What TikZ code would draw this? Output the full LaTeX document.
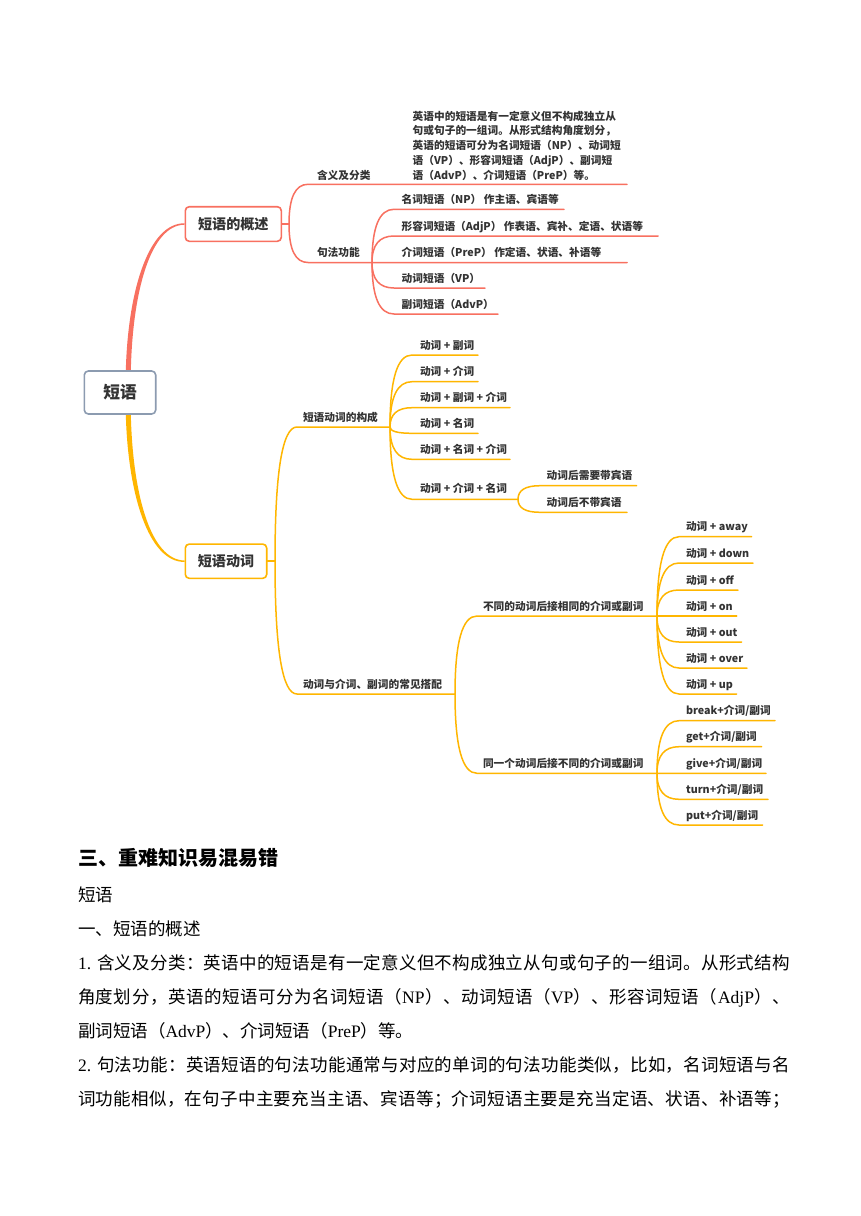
\documentclass[tikz,border=0pt]{standalone}
\usepackage{fontspec}
\setmainfont{Liberation Serif}
\newfontfamily\cjk{Noto Sans CJK SC}
\usetikzlibrary{calc,backgrounds}
\definecolor{redb}{RGB}{248,112,96}
\definecolor{orb}{RGB}{255,182,0}
\definecolor{rootb}{RGB}{140,155,176}
\definecolor{txt}{RGB}{51,51,51}
\makeatletter
\def\spr@end{\spr@end@}
\newcommand\spreadline[1]{\hbox to 712pt{\spr@first#1\spr@end}}
\def\spr@first#1{{#1}\spr@go}
\def\spr@go#1{\ifx\spr@end#1\else\hskip 0pt plus 1fil{#1}\expandafter\spr@go\fi}
\makeatother
\newcommand\conn[4]{\draw[#1] (#2) .. controls ($(#2)!0.667!(#2 |- #3)$) and ($(#3)!0.667!(#2 |- #3)$) .. (#3) -- (#4);}
\tikzset{
  mm/.style={anchor=base west, inner sep=0pt, outer sep=0pt, text=txt, font=\cjk\bfseries\fontsize{10.7}{12}\selectfont},
  rline/.style={draw=redb, line width=1.5pt, line cap=round},
  oline/.style={draw=orb, line width=1.5pt, line cap=round},
  tbox/.style={draw, rounded corners=4pt, line width=1.6pt, fill=white, inner sep=0pt, text=txt},
  body/.style={anchor=base west, inner sep=0pt, outer sep=0pt, text=black, font=\cjk\fontsize{17.5}{20}\selectfont},
}
\begin{document}
\begin{tikzpicture}[x=1pt,y=-1pt]
\useasboundingbox (0,0) rectangle (860,1216);

% ---------- main boxes
\node[tbox, draw=rootb, minimum width=71.4pt, minimum height=43pt, font=\cjk\bfseries\fontsize{16.7}{18}\selectfont] (root) at (120,392.5) {短语};
\node[tbox, draw=redb, minimum width=96pt, minimum height=34.6pt, font=\cjk\bfseries\fontsize{14.1}{16}\selectfont] (b1) at (233.3,224) {短语的概述};
\node[tbox, draw=orb, minimum width=81.4pt, minimum height=34.3pt, font=\cjk\bfseries\fontsize{14.1}{16}\selectfont] (b2) at (226,561.2) {短语动词};

% ---------- branch 1 texts
\node[mm] (t11) at (317,179) {含义及分类};
\node[mm] (t12) at (317,256) {句法功能};
\node[mm] (d1) at (412.7,120) {英语中的短语是有一定意义但不构成独立从};
\node[mm] (d2) at (412.7,134.8) {句或句子的一组词。从形式结构角度划分，};
\node[mm] (d3) at (412.7,149.6) {英语的短语可分为名词短语（NP）、动词短};
\node[mm] (d4) at (412.7,164.6) {语（VP）、形容词短语（AdjP）、副词短};
\node[mm] (d5) at (412.7,179.2) {语（AdvP）、介词短语（PreP）等。};
\node[mm] (s1) at (401.7,203.3) {名词短语（NP） 作主语、宾语等};
\node[mm] (s2) at (401.7,230) {形容词短语（AdjP） 作表语、宾补、定语、状语等};
\node[mm] (s3) at (401.7,256.5) {介词短语（PreP） 作定语、状语、补语等};
\node[mm] (s4) at (401.7,282) {动词短语（VP）};
\node[mm] (s5) at (401.7,308) {副词短语（AdvP）};

% ---------- branch 2 texts
\node[mm] (t21) at (303,421) {短语动词的构成};
\node[mm] (t22) at (303,688) {动词与介词、副词的常见搭配};
\node[mm] (c1) at (420,349) {动词 + 副词};
\node[mm] (c2) at (420,375.7) {动词 + 介词};
\node[mm] (c3) at (420,401.7) {动词 + 副词 + 介词};
\node[mm] (c4) at (420,427.3) {动词 + 名词};
\node[mm] (c5) at (420,453.3) {动词 + 名词 + 介词};
\node[mm] (c6) at (420,492) {动词 + 介词 + 名词};
\node[mm] (c61) at (546.7,479.7) {动词后需要带宾语};
\node[mm] (c62) at (546.7,506.3) {动词后不带宾语};
\node[mm] (g1) at (483,610) {不同的动词后接相同的介词或副词};
\node[mm] (g2) at (483,767) {同一个动词后接不同的介词或副词};
\node[mm] (a1) at (686,530.7) {动词 + away};
\node[mm] (a2) at (686,557) {动词 + down};
\node[mm] (a3) at (686,584) {动词 + off};
\node[mm] (a4) at (686,610) {动词 + on};
\node[mm] (a5) at (686,636) {动词 + out};
\node[mm] (a6) at (686,662) {动词 + over};
\node[mm] (a7) at (686,688) {动词 + up};
\node[mm] (p1) at (686,714.7) {break+介词/副词};
\node[mm] (p2) at (686,740.7) {get+介词/副词};
\node[mm] (p3) at (686,767.3) {give+介词/副词};
\node[mm] (p4) at (686,793.3) {turn+介词/副词};
\node[mm] (p5) at (686,819) {put+介词/副词};

% ---------- body text
\node[anchor=base west, inner sep=0pt, text=black, font=\cjk\bfseries\fontsize{20}{24}\selectfont] (h) at (78,865.4) {三、重难知识易混易错};
\node[body] (l0) at (78,901.5) {短语};
\node[body] (la) at (78,935.5) {一、短语的概述};
\node[body] (l1) at (78,969.5) {\spreadline{{\rmfamily 1. }含义及分类：英语中的短语是有一定意义但不构成独立从句或句子的一组词。从形式结构}};
\node[body] (l2) at (78,1003.5) {\spreadline{角度划分，英语的短语可分为名词短语（{\rmfamily NP}）、动词短语（{\rmfamily VP}）、形容词短语（{\rmfamily AdjP}）、}};
\node[body] (l3) at (78,1037.5) {副词短语（{\rmfamily AdvP}）、介词短语（{\rmfamily PreP}）等。};
\node[body] (l4) at (78,1071.5) {\spreadline{{\rmfamily 2. }句法功能：英语短语的句法功能通常与对应的单词的句法功能类似，比如，名词短语与名}};
\node[body] (l5) at (78,1105.5) {\spreadline{词功能相似，在句子中主要充当主语、宾语等；介词短语主要是充当定语、状语、补语等；}};

% ---------- connectors
\begin{scope}[on background layer]
\fill[white] (0,0) rectangle (860,1216);
\coordinate (rt) at ($(root.north)+(8.3,1)$);
\coordinate (rb) at ($(root.south)+(8.3,-1)$);
\coordinate (b1w) at (b1.west);
\coordinate (b2w) at (b2.west);
\fill[redb] ($(rt)+(-2.5,0)$) .. controls ($(rt)+(-0.5,-80)$) and ($(b1w)+(-36,-1.2)$) .. ($(b1w)+(0,-0.7)$)
   -- ($(b1w)+(0,0.7)$) .. controls ($(b1w)+(-34,1.2)$) and ($(rt)+(4.3,-80)$) .. ($(rt)+(2.5,0)$) -- cycle;
\fill[orb] ($(rb)+(-2.5,0)$) .. controls ($(rb)+(-0.5,80)$) and ($(b2w)+(-36,1.2)$) .. ($(b2w)+(0,0.7)$)
   -- ($(b2w)+(0,-0.7)$) .. controls ($(b2w)+(-34,-1.2)$) and ($(rb)+(4.3,80)$) .. ($(rb)+(2.5,0)$) -- cycle;

% branch 1
\coordinate (f1) at (289,224);
\draw[rline] (b1.east) -- (f1);
\coordinate (u11) at (308,184.3); \coordinate (e11) at (627,184.3);
\coordinate (u12) at (308,262.5); \coordinate (f12) at (372,262.5);
\conn{rline}{f1}{u11}{e11}
\conn{rline}{f1}{u12}{f12}
\coordinate (us1) at (394,209.3); \coordinate (es1) at (564,209.3);
\coordinate (us2) at (394,236); \coordinate (es2) at (658,236);
\coordinate (us3) at (394,262.5); \coordinate (es3) at (627,262.5);
\coordinate (us4) at (394,288); \coordinate (es4) at (485,288);
\coordinate (us5) at (394,314); \coordinate (es5) at (498,314);
\foreach \i in {1,...,5}{\conn{rline}{f12}{us\i}{es\i}}

% branch 2
\coordinate (f2) at (275,561.2);
\draw[oline] (b2.east) -- (f2);
\coordinate (u21) at (297,427); \coordinate (f21) at (390,427);
\coordinate (u22) at (297,694); \coordinate (f22) at (455,694);
\conn{oline}{f2}{u21}{f21}
\conn{oline}{f2}{u22}{f22}
\coordinate (uc1) at (412,355); \coordinate (ec1) at (478,355);
\coordinate (uc2) at (412,381.7); \coordinate (ec2) at (478,381.7);
\coordinate (uc3) at (412,407.7); \coordinate (ec3) at (510,407.7);
\coordinate (uc4) at (412,433.3); \coordinate (ec4) at (478,433.3);
\coordinate (uc5) at (412,459.3); \coordinate (ec5) at (510,459.3);
\coordinate (uc6) at (412,499.3); \coordinate (ec6) at (518,499.3);
\foreach \i in {1,...,6}{\conn{oline}{f21}{uc\i}{ec\i}}
\coordinate (uc61) at (540,485.7); \coordinate (ec61) at (636.7,485.7);
\coordinate (uc62) at (540,512.3); \coordinate (ec62) at (627,512.3);
\conn{oline}{ec6}{uc61}{ec61}
\conn{oline}{ec6}{uc62}{ec62}
\coordinate (ug1) at (477,616); \coordinate (eg1) at (657,616);
\coordinate (ug2) at (477,773.3); \coordinate (eg2) at (657,773.3);
\conn{oline}{f22}{ug1}{eg1}
\conn{oline}{f22}{ug2}{eg2}
\coordinate (ua1) at (679,536.7); \coordinate (ea1) at (751.7,536.7);
\coordinate (ua2) at (679,563); \coordinate (ea2) at (753,563);
\coordinate (ua3) at (679,590); \coordinate (ea3) at (738,590);
\coordinate (ua4) at (679,616); \coordinate (ea4) at (736.7,616);
\coordinate (ua5) at (679,642); \coordinate (ea5) at (741.7,642);
\coordinate (ua6) at (679,668); \coordinate (ea6) at (747,668);
\coordinate (ua7) at (679,694); \coordinate (ea7) at (736.7,694);
\foreach \i in {1,...,7}{\conn{oline}{eg1}{ua\i}{ea\i}}
\coordinate (up1) at (679,720.7); \coordinate (ep1) at (775,720.7);
\coordinate (up2) at (679,746.7); \coordinate (ep2) at (761.7,746.7);
\coordinate (up3) at (679,773.3); \coordinate (ep3) at (766,773.3);
\coordinate (up4) at (679,799.3); \coordinate (ep4) at (768,799.3);
\coordinate (up5) at (679,825); \coordinate (ep5) at (762.7,825);
\foreach \i in {1,...,5}{\conn{oline}{eg2}{up\i}{ep\i}}
\end{scope}
\end{tikzpicture}
\end{document}
